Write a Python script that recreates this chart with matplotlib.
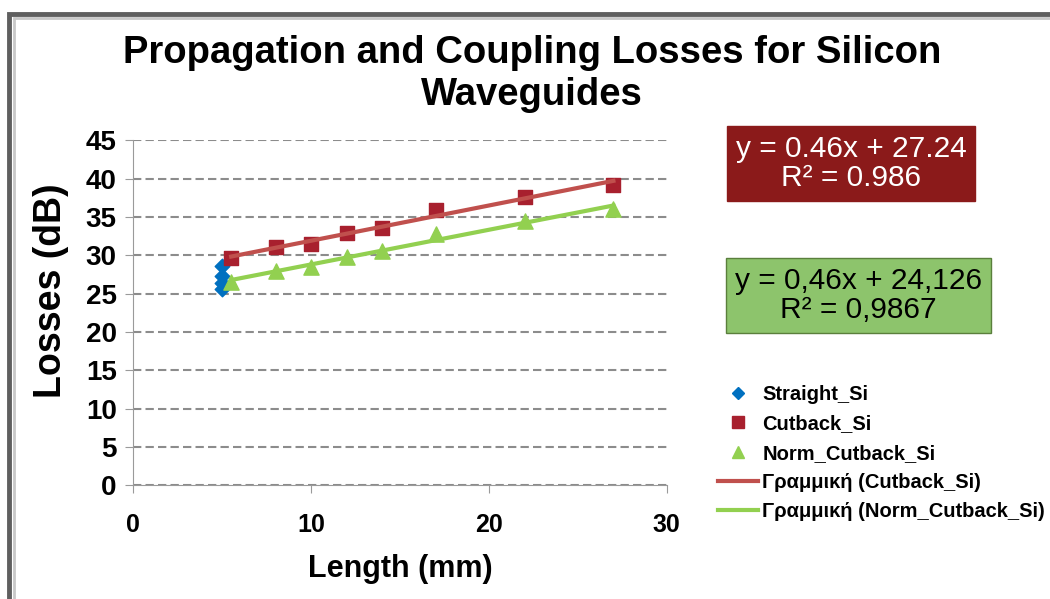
import numpy as np
import matplotlib
matplotlib.use("Agg")
import matplotlib.pyplot as plt
from matplotlib.patches import Rectangle
from matplotlib.lines import Line2D

plt.rcParams['font.family'] = ['Liberation Sans', 'DejaVu Sans']

# data
straight_x = [5, 5, 5, 5]
straight_y = [28.6, 27.3, 26.4, 25.6]

length = [5.5, 8, 10, 12, 14, 17, 22, 27]
cutback = [29.6, 31.1, 31.5, 32.9, 33.6, 35.9, 37.6, 39.2]
norm_cutback = [26.5, 28.0, 28.5, 29.8, 30.5, 32.7, 34.4, 36.0]

title = "Propagation and Coupling Losses for Silicon\nWaveguides"
eq_cutback = "y = 0.46x + 27.24\nR\u00b2 = 0.986"
eq_norm = "y = 0,46x + 24,126\nR\u00b2 = 0,9867"

fig = plt.figure(figsize=(10.5, 5.99), dpi=100)

# grey frame of the chart area (cut off at right and bottom)
fig.patches.append(Rectangle((0.009, -0.1), 1.2, 1.077, transform=fig.transFigure,
                             fill=False, edgecolor='#5f5f5f', linewidth=3.5))
fig.patches.append(Rectangle((0.013, -0.1), 1.2, 1.070, transform=fig.transFigure,
                             fill=False, edgecolor='#c8c8c8', linewidth=2))

ax = fig.add_axes([0.127, 0.19, 0.508, 0.576])

ax.scatter(straight_x, straight_y, marker='D', s=55, color='#0070C0', zorder=3)
ax.scatter(length, cutback, marker='s', s=110, color='#A8202E', zorder=3)
ax.scatter(length, norm_cutback, marker='^', s=120, color='#92D050', zorder=3)

# linear trendlines over the data range
xs = np.array([min(length), max(length)])
k1, b1 = np.polyfit(length, cutback, 1)
k2, b2 = np.polyfit(length, norm_cutback, 1)
ax.plot(xs, k1 * xs + b1, color='#C0504D', linewidth=3, zorder=4)
ax.plot(xs, k2 * xs + b2, color='#92D050', linewidth=3, zorder=4)

ax.set_xlim(0, 30)
ax.set_ylim(0, 45)
ax.set_xticks([0, 10, 20, 30])
ax.set_yticks(range(0, 50, 5))
ax.grid(axis='y', linestyle=(0, (4, 2)), color='#8c8c8c', linewidth=1.5)
ax.set_axisbelow(True)
for s in ['top', 'right']:
    ax.spines[s].set_visible(False)
for s in ['left', 'bottom']:
    ax.spines[s].set_color('#9a9a9a')
ax.tick_params(axis='both', direction='out', color='#9a9a9a', length=6)
ax.tick_params(axis='y', labelsize=20, pad=6)
ax.tick_params(axis='x', labelsize=18, pad=14)
for lbl in ax.get_xticklabels() + ax.get_yticklabels():
    lbl.set_fontweight('bold')

ax.set_xlabel('Length (mm)', fontsize=22, fontweight='bold', labelpad=12)
ax.set_ylabel('Losses (dB)', fontsize=27, fontweight='bold')
ax.yaxis.set_label_coords(-0.12, 0.565)

fig.text(0.507, 0.877, title, ha='center', va='center', fontsize=27.5,
         fontweight='bold', linespacing=1.22)

fig.text(0.8105, 0.727, eq_cutback, ha='center', va='center', fontsize=21.5,
         color='white', linespacing=1.05,
         bbox=dict(boxstyle='square,pad=0.3', facecolor='#8B1A1A', edgecolor='#8B1A1A'))
fig.text(0.8175, 0.507, eq_norm, ha='center', va='center', fontsize=21.5,
         color='black', linespacing=1.05,
         bbox=dict(boxstyle='square,pad=0.3', facecolor='#8DC46C', edgecolor='#5a7f3c'))

handles = [
    Line2D([], [], marker='D', linestyle='none', color='#0070C0', markersize=6),
    Line2D([], [], marker='s', linestyle='none', color='#A8202E', markersize=8),
    Line2D([], [], marker='^', linestyle='none', color='#92D050', markersize=8),
    Line2D([], [], color='#C0504D', linewidth=3),
    Line2D([], [], color='#92D050', linewidth=3),
]
labels = ['Straight_Si', 'Cutback_Si', 'Norm_Cutback_Si',
          '\u0393\u03c1\u03b1\u03bc\u03bc\u03b9\u03ba\u03ae (Cutback_Si)',
          '\u0393\u03c1\u03b1\u03bc\u03bc\u03b9\u03ba\u03ae (Norm_Cutback_Si)']
leg = fig.legend(handles, labels, loc='upper left', bbox_to_anchor=(0.676, 0.37),
                 frameon=False, fontsize=14.5, handlelength=2.0, handletextpad=0.2,
                 labelspacing=0.5, borderaxespad=0)
for t in leg.get_texts():
    t.set_fontweight('bold')

fig.savefig('out.png', dpi=100)
